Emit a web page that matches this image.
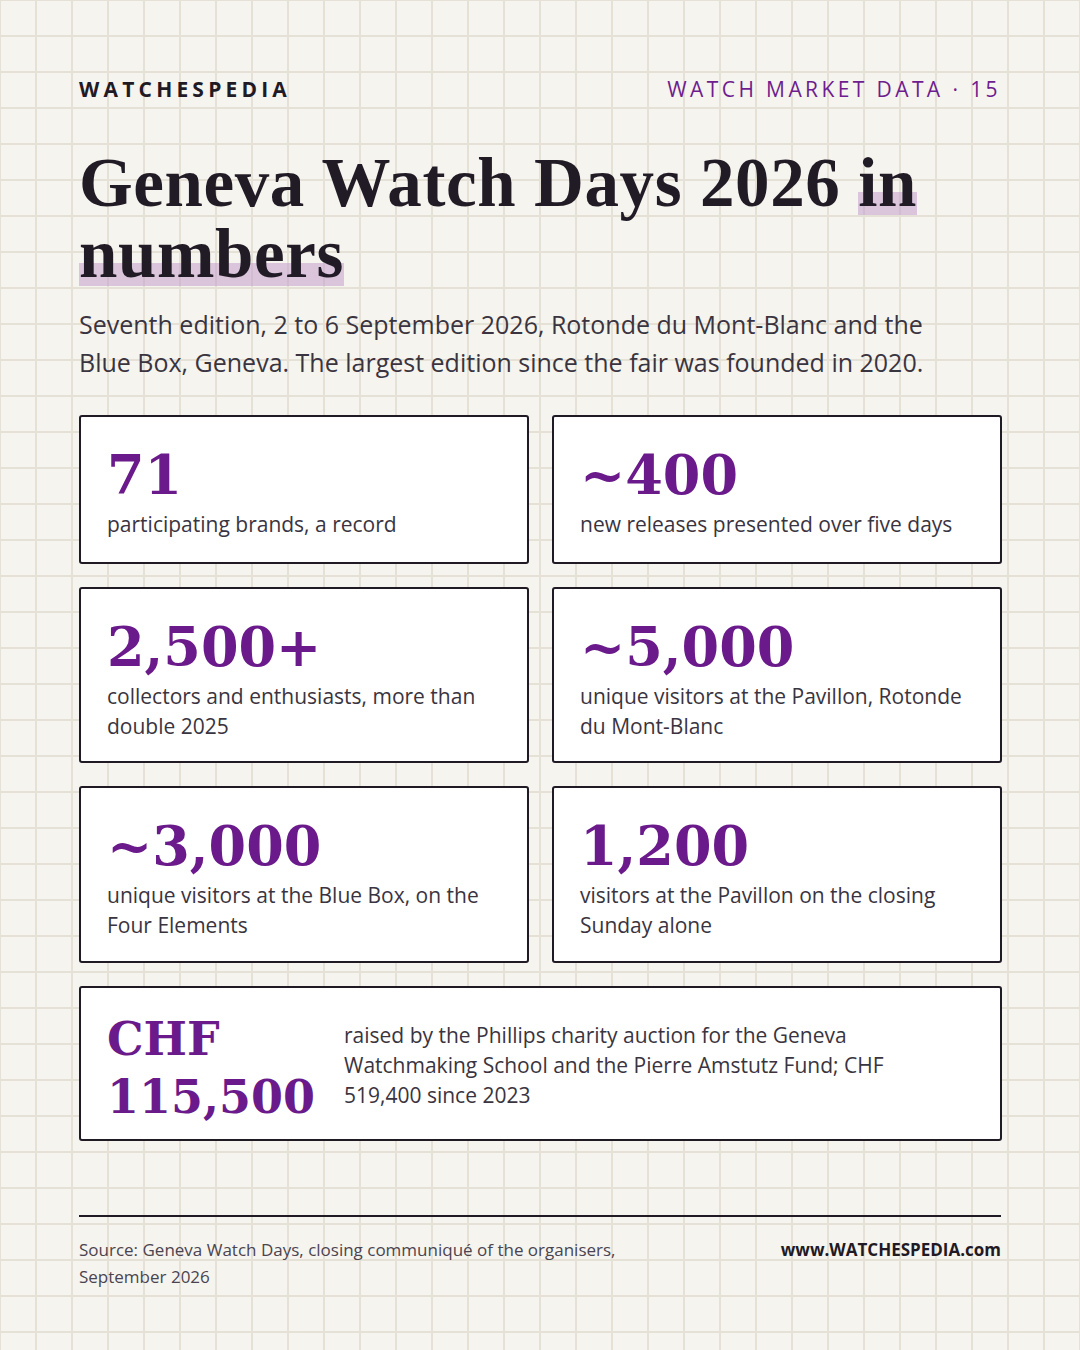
<!DOCTYPE html>
<html>
<head>
<meta charset="utf-8">
<script src="https://cdn.jsdelivr.net/npm/chart.js@4"></script>
<style>
  html, body { margin: 0; padding: 0; }
  body {
    width: 1080px; height: 1350px; position: relative; overflow: hidden;
    background-color: #f6f4ef;
    background-image:
      linear-gradient(to right, #e6e1d6 2px, transparent 2px),
      linear-gradient(to bottom, #e6e1d6 2px, transparent 2px);
    background-size: 36px 36px;
    background-position: -1px -1px;
    font-family: "Open Sans", sans-serif; color: #2a2530;
  }
  .brand { position: absolute; left: 79px; top: 75px; font-weight: 700; font-size: 21px; letter-spacing: 4.2px; color: #1f1a24; }
  .tag { position: absolute; right: 79px; top: 75px; font-size: 21px; letter-spacing: 3.4px; color: #6e1d8e; }
  h1 { position: absolute; left: 79px; top: 148px; margin: 0; width: 960px;
       font-family: "Liberation Serif", "DejaVu Serif", serif; font-weight: 700; font-size: 69px; line-height: 71px; letter-spacing: 0.6px; color: #211b26; }
  .hl { background: linear-gradient(to bottom, transparent 62%, rgba(190,150,200,0.5) 62%, rgba(190,150,200,0.5) 92%, transparent 92%); }
  .sub { position: absolute; left: 79px; top: 305px; width: 880px; font-size: 25px; line-height: 38px; color: #3a3440; }
  .card { position: absolute; box-sizing: border-box; background: #fff; border: 2px solid #1f1a24; border-radius: 3px; padding: 27px 26px; }
  .num { font-family: "DejaVu Serif", serif; font-weight: 700; font-size: 54px; line-height: 62px; color: #6a1a8a; }
  .lbl { font-size: 21px; line-height: 30px; color: #3a3440; margin-top: 3px; }
  .wide .num { position: absolute; left: 26px; top: 22px; width: 240px; line-height: 58px; font-size: 46px; }
  .wide .lbl { position: absolute; left: 263px; top: 32px; width: 590px; margin: 0; }
  .rule { position: absolute; left: 79px; top: 1215px; width: 922px; height: 2px; background: #1f1a24; }
  .src { position: absolute; left: 79px; top: 1236px; font-size: 17px; line-height: 27px; color: #4a4450; width: 600px; }
  .url { position: absolute; right: 79px; top: 1236px; font-size: 17px; line-height: 27px; font-weight: 700; color: #1f1a24; }
</style>
</head>
<body>
<div class="brand">WATCHESPEDIA</div>
<div class="tag">WATCH MARKET DATA · 15</div>
<h1>Geneva Watch Days 2026 <span class="hl">in</span><br><span class="hl">numbers</span></h1>
<div class="sub">Seventh edition, 2 to 6 September 2026, Rotonde du Mont-Blanc and the Blue Box, Geneva. The largest edition since the fair was founded in 2020.</div>
<div id="cards"></div>
<div class="rule"></div>
<div class="src">Source: Geneva Watch Days, closing communiqué of the organisers, September 2026</div>
<div class="url">www.WATCHESPEDIA.com</div>
<script>
const statValues = ["71", "~400", "2,500+", "~5,000", "~3,000", "1,200", "CHF 115,500"];
const statLabels = [
  "participating brands, a record",
  "new releases presented over five days",
  "collectors and enthusiasts, more than double 2025",
  "unique visitors at the Pavillon, Rotonde du Mont-Blanc",
  "unique visitors at the Blue Box, on the Four Elements",
  "visitors at the Pavillon on the closing Sunday alone",
  "raised by the Phillips charity auction for the Geneva Watchmaking School and the Pierre Amstutz Fund; CHF 519,400 since 2023"
];
const boxes = [
  [79, 415, 450, 149], [552, 415, 450, 149],
  [79, 587, 450, 176], [552, 587, 450, 176],
  [79, 786, 450, 177], [552, 786, 450, 177],
  [79, 986, 923, 155]
];
const host = document.getElementById('cards');
statValues.forEach((v, i) => {
  const [x, y, w, h] = boxes[i];
  const d = document.createElement('div');
  d.className = 'card' + (i === 6 ? ' wide' : '');
  d.style.cssText = `left:${x}px;top:${y}px;width:${w}px;height:${h}px;`;
  const val = i === 6 ? v.replace(' ', '<br>') : v;
  d.innerHTML = `<div class="num">${val}</div><div class="lbl">${statLabels[i]}</div>`;
  host.appendChild(d);
});
</script>
</body>
</html>
